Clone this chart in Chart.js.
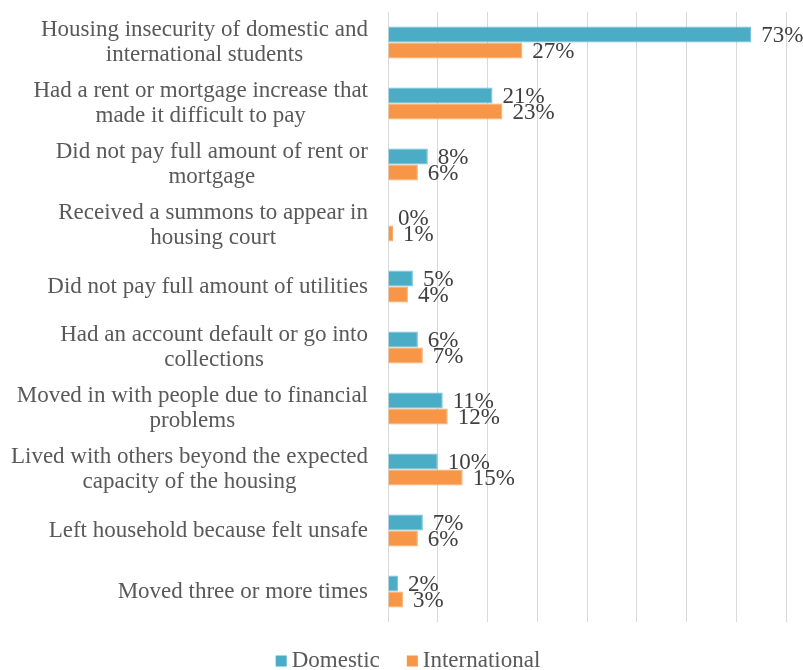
<!DOCTYPE html>
<html>
<head>
<meta charset="utf-8">
<script src="https://cdn.jsdelivr.net/npm/chart.js@4"></script>
<style>
  html, body { margin: 0; padding: 0; background: #ffffff; }
  #wrap { width: 803px; height: 670px; }
</style>
</head>
<body>
<div id="wrap"><canvas id="chart" width="803" height="670"></canvas></div>
<script>
// Survey items (one array per label, one entry per printed line)
const categories = [
  ["Housing insecurity of domestic and", "international students"],
  ["Had a rent or mortgage increase that", "made it difficult to pay"],
  ["Did not pay full amount of rent or", "mortgage"],
  ["Received a summons to appear in", "housing court"],
  ["Did not pay full amount of utilities"],
  ["Had an account default or go into", "collections"],
  ["Moved in with people due to financial", "problems"],
  ["Lived with others beyond the expected", "capacity of the housing"],
  ["Left household because felt unsafe"],
  ["Moved three or more times"]
];

// Share of respondents, in percent
const domestic      = [73, 21, 8, 0, 5, 6, 11, 10, 7, 2];
const international = [27, 23, 6, 1, 4, 7, 12, 15, 6, 3];

const seriesNames = ["Domestic", "International"];
const seriesColors = ["#4BACC6", "#F79646"];

const FONT = "'Liberation Serif', 'Times New Roman', serif";
const AXIS_RIGHT = 388;      // left edge of the plot area
const LABEL_GAP = 20;        // space between category text and plot
const LINE_H = 25;

// Category text: each label block is right-aligned, its lines centred on each other
const categoryText = {
  id: 'categoryText',
  afterDraw(chart) {
    const ctx = chart.ctx;
    const y = chart.scales.y;
    ctx.save();
    ctx.font = `23px ${FONT}`;
    ctx.fillStyle = '#595959';
    ctx.textAlign = 'center';
    ctx.textBaseline = 'middle';
    categories.forEach((lines, i) => {
      const cy = y.getPixelForTick(i);
      const w = Math.max(...lines.map(l => ctx.measureText(l).width));
      const cx = y.right - LABEL_GAP - w / 2;
      lines.forEach((line, j) => {
        ctx.fillText(line, cx, cy + (j - (lines.length - 1) / 2) * LINE_H);
      });
    });
    ctx.restore();
  }
};

// Value labels just past the end of each bar
const valueText = {
  id: 'valueText',
  afterDatasetsDraw(chart) {
    const ctx = chart.ctx;
    ctx.save();
    ctx.font = `23px ${FONT}`;
    ctx.fillStyle = '#404040';
    ctx.textAlign = 'left';
    ctx.textBaseline = 'middle';
    chart.data.datasets.forEach((ds, di) => {
      const meta = chart.getDatasetMeta(di);
      meta.data.forEach((bar, i) => {
        ctx.fillText(ds.data[i] + '%', bar.x + 10, bar.y + 1);
      });
    });
    ctx.restore();
  }
};

// Legend row centred under the plot
const legendRow = {
  id: 'legendRow',
  afterDraw(chart) {
    const ctx = chart.ctx;
    ctx.save();
    ctx.font = `23px ${FONT}`;
    ctx.textBaseline = 'middle';
    ctx.textAlign = 'left';
    const box = 11, boxGap = 5, itemGap = 27;
    const widths = seriesNames.map(n => box + boxGap + ctx.measureText(n).width);
    const total = widths.reduce((a, b) => a + b, 0) + itemGap * (seriesNames.length - 1);
    let x = 408 - total / 2;
    const cy = 660;
    seriesNames.forEach((n, i) => {
      ctx.fillStyle = seriesColors[i];
      ctx.fillRect(x, cy - box / 2 + 1, box, box);
      ctx.fillStyle = '#595959';
      ctx.fillText(n, x + box + boxGap, cy + 1);
      x += widths[i] + itemGap;
    });
    ctx.restore();
  }
};

new Chart(document.getElementById('chart'), {
  type: 'bar',
  data: {
    labels: categories,
    datasets: [
      {
        label: seriesNames[0],
        data: domestic,
        backgroundColor: seriesColors[0],
        borderColor: '#6fc0d6',
        borderWidth: 1,
        categoryPercentage: 0.525,
        barPercentage: 1.0
      },
      {
        label: seriesNames[1],
        data: international,
        backgroundColor: seriesColors[1],
        borderColor: '#f9a865',
        borderWidth: 1,
        categoryPercentage: 0.525,
        barPercentage: 1.0
      }
    ]
  },
  options: {
    indexAxis: 'y',
    responsive: false,
    animation: false,
    devicePixelRatio: 1,
    layout: { padding: { left: 0, right: 17, top: 12, bottom: 48 } },
    scales: {
      x: {
        min: 0,
        max: 80,
        ticks: { display: false, stepSize: 10 },
        grid: { color: '#d9d9d9', lineWidth: 1, drawTicks: false },
        border: { display: false }
      },
      y: {
        ticks: { display: false },
        grid: { display: false, drawTicks: false },
        border: { display: false },
        afterFit(scale) { scale.width = AXIS_RIGHT; }
      }
    },
    plugins: {
      legend: { display: false },
      tooltip: { enabled: false }
    }
  },
  plugins: [categoryText, valueText, legendRow]
});
</script>
</body>
</html>
